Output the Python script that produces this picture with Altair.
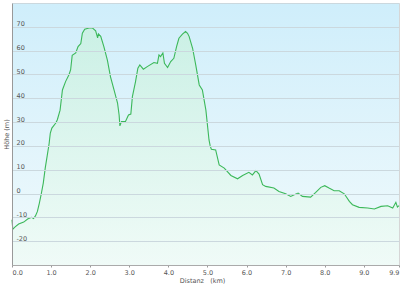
import altair as alt
import pandas as pd

dist = [0.00, 0.02, 0.08, 0.17, 0.30, 0.40, 0.50, 0.55, 0.60, 0.65, 0.70, 0.75, 0.80, 0.85,
        0.90, 0.95, 0.98, 1.02, 1.12, 1.16, 1.23, 1.29, 1.37, 1.46, 1.50, 1.54, 1.63, 1.69,
        1.76, 1.80, 1.86, 1.97, 2.06, 2.14, 2.19, 2.21, 2.27, 2.35, 2.44, 2.52, 2.61, 2.70,
        2.74, 2.76, 2.80, 2.90, 2.98, 3.04, 3.08, 3.16, 3.22, 3.27, 3.36, 3.46, 3.63, 3.72,
        3.76, 3.80, 3.86, 3.90, 3.98, 4.06, 4.14, 4.21, 4.27, 4.36, 4.44, 4.49, 4.53, 4.62,
        4.70, 4.79, 4.87, 4.96, 5.04, 5.07, 5.10, 5.21, 5.30, 5.43, 5.60, 5.77, 5.90, 6.06,
        6.15, 6.24, 6.32, 6.41, 6.49, 6.70, 6.83, 7.00, 7.13, 7.22, 7.32, 7.43, 7.64, 7.77,
        7.90, 8.00, 8.11, 8.24, 8.37, 8.50, 8.63, 8.71, 8.88, 9.10, 9.27, 9.44, 9.61, 9.74,
        9.82, 9.86, 9.90]
elev = [-11, -15, -14, -12.8, -12, -10.7, -10, -10.5, -9.4, -7.5, -4, 0, 4.4, 10.7,
        15.8, 21, 25.4, 27.5, 29.6, 31, 35, 43.5, 47, 50, 52, 58, 59, 61.7,
        63, 67.3, 69, 69.5, 69.5, 68.3, 65.4, 67, 66, 61.7, 56, 49, 43.5, 38,
        33, 28.4, 30.2, 30.2, 33, 33.4, 40.7, 47, 52.6, 54, 52.2, 53.3, 55, 54.7,
        58.2, 57.5, 59, 54.7, 52.9, 55.4, 56.8, 61.7, 65.2, 66.9, 68, 67.3, 66, 61,
        54, 45.6, 43.5, 35, 22.5, 20, 18.6, 18.3, 12, 10.7, 7.6, 6.2, 7.6, 8.9,
        7.8, 9.6, 8.2, 3.7, 3, 2.3, 0.9, -0.1, -1.2, -0.5, 0.2, -1.2, -1.5, 0.5,
        2.6, 3.3, 2.3, 1.2, 1.2, -0.1, -3.3, -4.7, -5.8, -6.1, -6.5, -5.4, -5.1, -6.1,
        -3.7, -5.7, -5.1]

x_ticks = [0, 1, 2, 3, 4, 5, 6, 7, 8, 9, 9.9]
y_grid = [-30, -20, -10, 0, 10, 20, 30, 40, 50, 60, 70, 80]

df = pd.DataFrame({"d": dist, "h": elev})

font = "DejaVu Sans"
W, H = 387, 262

x_enc = alt.X(
    "d:Q",
    scale=alt.Scale(domain=[0, 9.9], nice=False, zero=False),
    axis=alt.Axis(
        values=x_ticks, format=".1f", labelFlush=True, labelOverlap=False, grid=False,
        title="Distanz\u00a0\u00a0\u00a0(km)", titleX=190, titleY=15,
        titleBaseline="middle", tickSize=2, tickColor="#999999",
        domainColor="#aaaaaa", labelPadding=2, zindex=1,
    ),
)
y_enc = alt.Y(
    "h:Q",
    scale=alt.Scale(domain=[-30, 80], nice=False, zero=False),
    axis=alt.Axis(
        values=y_grid, format="d",
        labelExpr="datum.value >= 75 || datum.value <= -25 ? '' : '' + datum.value",
        labelAlign="left", labelBaseline="bottom", labelPadding=-4,
        labelOverlap=False, labelBound=False,
        tickSize=0, ticks=False, tickCount=12,
        grid=True, gridColor="#cbd8de", gridWidth=1,
        domainColor="#999999", zindex=1,
        title="Höhe (m)", titleX=-6, titleY=131, titleBaseline="middle",
    ),
)

bg = alt.Chart(pd.DataFrame({"a": [0]})).mark_rect(
    fill=alt.Gradient(
        gradient="linear", x1=0, y1=0, x2=0, y2=1,
        stops=[alt.GradientStop(color="#cfeefb", offset=0),
               alt.GradientStop(color="#f1fafc", offset=1)],
    ),
).encode(x=alt.value(0), x2=alt.value(W), y=alt.value(0), y2=alt.value(H))

area = alt.Chart(df).mark_area(
    fill=alt.Gradient(
        gradient="linear", x1=0, y1=0, x2=0, y2=1,
        stops=[alt.GradientStop(color="#c8f1dc", offset=0),
               alt.GradientStop(color="#effbf5", offset=1)],
    ),
    line=alt.OverlayMarkDef(color="#3cb85a", strokeWidth=1.1),
    interpolate="linear",
).encode(x=x_enc, y=y_enc, y2=alt.datum(-30))

chart = alt.layer(bg, area).properties(
    width=W, height=H,
    autosize=alt.AutoSizeParams(type="none"),
    padding={"left": 12, "top": 3, "right": 1, "bottom": 21},
    background="#ffffff",
).configure_view(
    stroke="#d6d6d6",
).configure_axis(
    labelFont=font, titleFont=font, labelFontSize=6.5, titleFontSize=6.5,
    labelColor="#555555", titleColor="#555555", titleFontWeight="normal",
)

chart.save("out.html", embed_options={"renderer": "svg", "actions": False})
